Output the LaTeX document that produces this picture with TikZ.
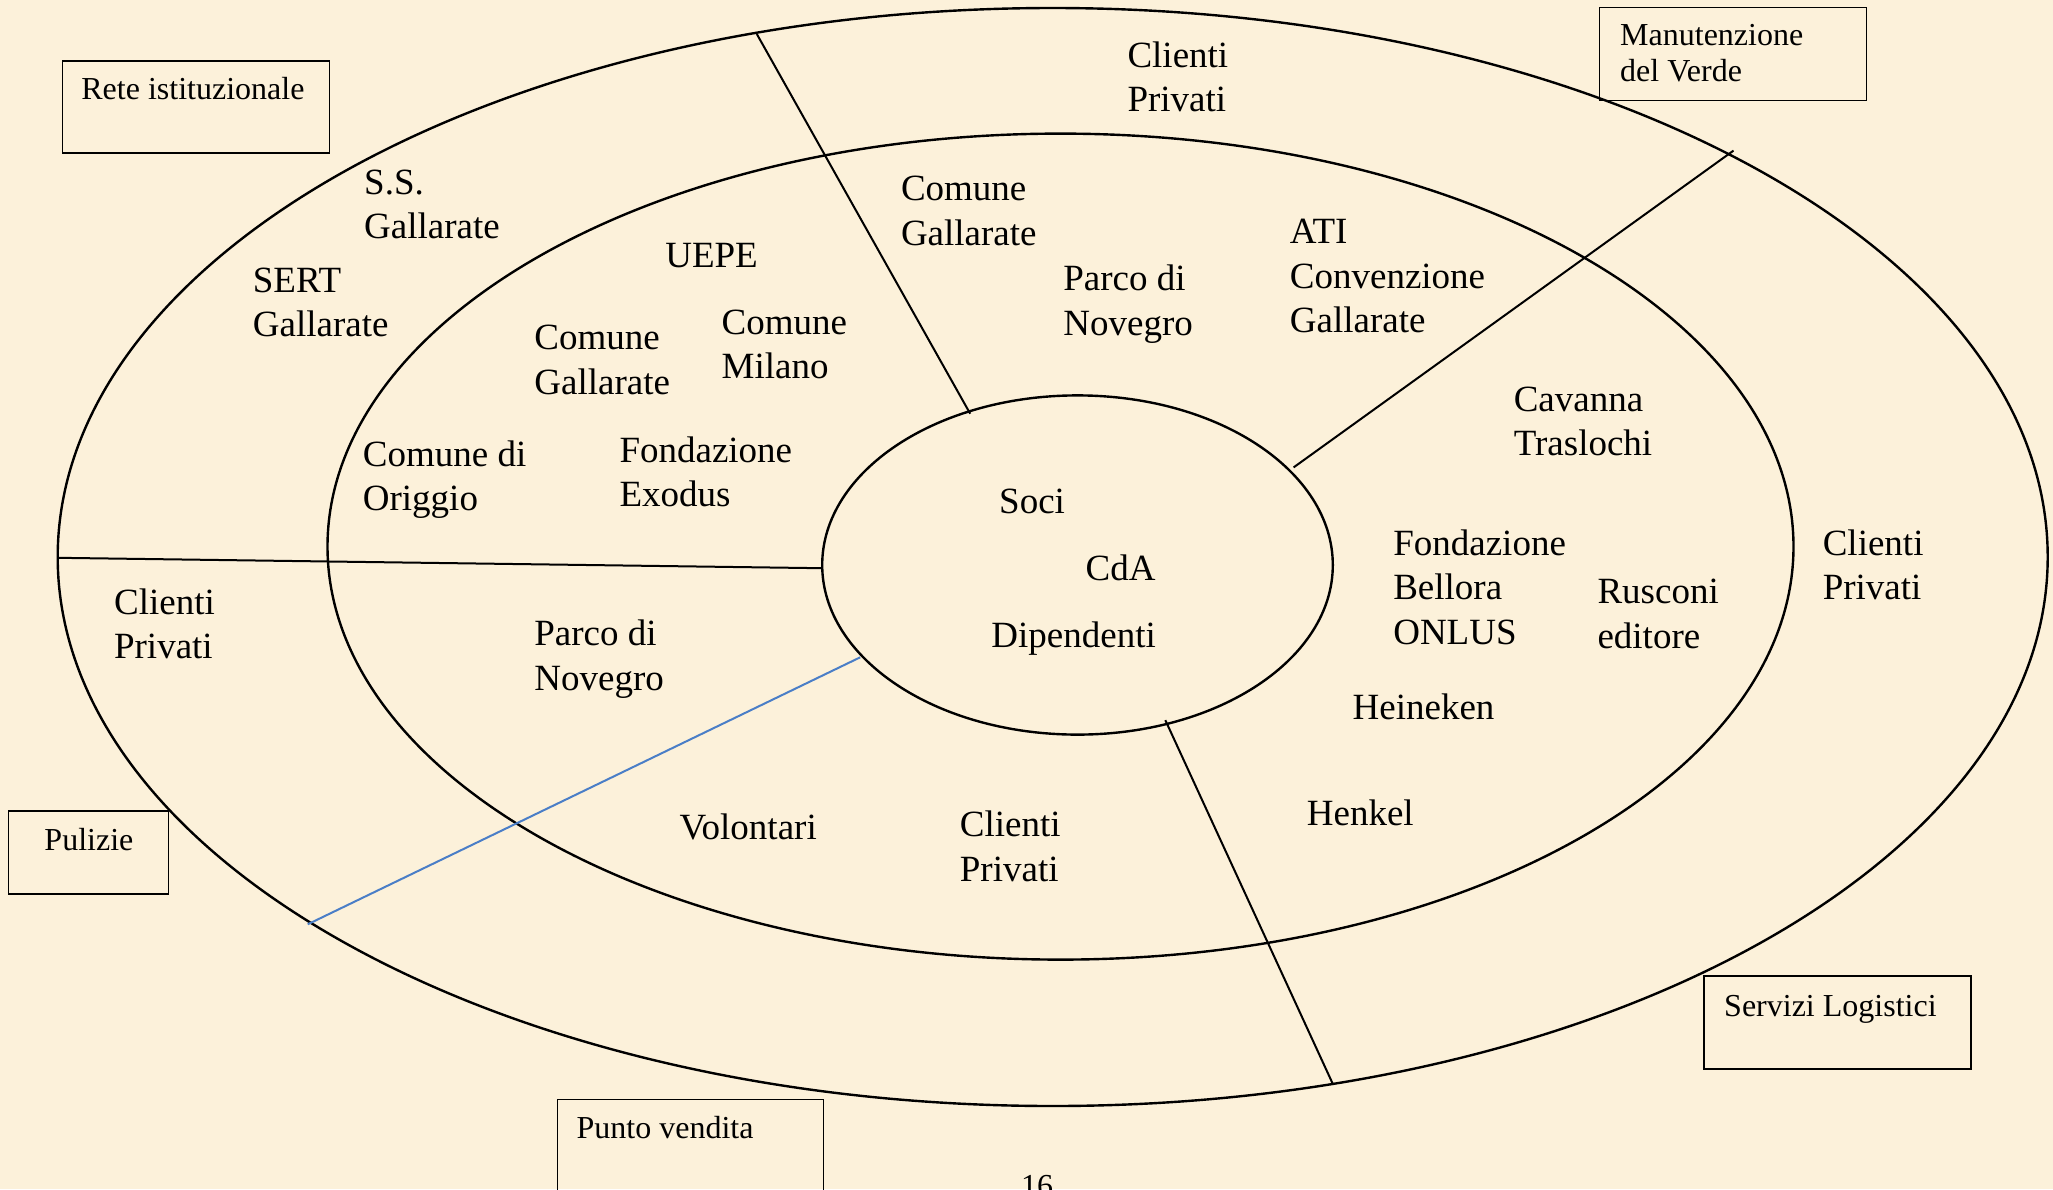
\documentclass[tikz,border=0pt]{standalone}
\usepackage{fontspec}
\setmainfont{Liberation Serif}
\definecolor{parch}{RGB}{252,241,218}
\definecolor{blueline}{RGB}{74,126,199}
\newcommand{\mainsz}{\fontsize{37bp}{44.5bp}\selectfont}
\newcommand{\boxsz}{\fontsize{32bp}{36.7bp}\selectfont}
\newcommand{\tlines}[1]{\begin{tabular}[t]{@{}l@{}}#1\end{tabular}}
\begin{document}
\begin{tikzpicture}[x=1bp,y=-1bp,
  lab/.style={anchor=base west, inner sep=0pt, font=\mainsz, yshift=-1.5bp},
  btxt/.style={anchor=base west, inner sep=0pt, font=\boxsz},
  bx/.style={draw, line width=1.5bp, inner sep=0pt, anchor=north west},
  ring/.style={line width=2.4bp},
  div/.style={line width=2bp},
  bdiv/.style={line width=2bp, draw=blueline}]
\useasboundingbox (0,0) rectangle (2053,1189);
\fill[parch] (0,0) rectangle (2053,1189);

% rings
\draw[ring] (1052.7,557) ellipse [x radius=995, y radius=549];
\draw[ring] (1060.5,546.6) ellipse [x radius=733, y radius=413];
\draw[ring] (1077.5,565) ellipse [x radius=255.3, y radius=169.6];

% divider end points
\coordinate (d1a) at (756.8,34);
\coordinate (d1b) at (970.2,413.7);
\coordinate (d2a) at (1733.5,150.6);
\coordinate (d2b) at (1293.6,467.4);
\coordinate (d3a) at (57.6,557.8);
\coordinate (d3b) at (822.2,568.2);
\coordinate (d4a) at (307.7,924.3);
\coordinate (d4b) at (860.2,657.3);
\coordinate (d5a) at (1165.3,720.1);
\coordinate (d5b) at (1332.9,1084.1);
\draw[div] (d1a) -- (d1b);
\draw[div] (d2a) -- (d2b);
\draw[div] (d3a) -- (d3b);
\draw[bdiv] (d4a) -- (d4b);
\draw[div] (d5a) -- (d5b);

% boxes
\node[bx, minimum width=267bp, minimum height=92bp] (brete) at (61.5,60.2) {};
\node[btxt] (trete) at (81.2,99.3) {Rete istituzionale};
\node[bx, minimum width=267bp, minimum height=93bp] (bman) at (1598.7,6.5) {};
\node[btxt] (tman) at (1620,45) {\tlines{Manutenzione\\del Verde}};
\node[bx, minimum width=160bp, minimum height=83bp] (bpul) at (7.9,810.4) {};
\node[btxt] (tpul) at (44.3,850.7) {Pulizie};
\node[bx, minimum width=267bp, minimum height=93bp] (bserv) at (1703.4,975.4) {};
\node[btxt] (tserv) at (1724,1016.7) {Servizi Logistici};
\node[bx, minimum width=266bp, minimum height=140bp] (bpunto) at (556.5,1098.5) {};
\node[btxt] (tpunto) at (576.5,1138.5) {Punto vendita};
\node[btxt] (pagenum) at (1021,1196) {16};

% labels
\node[lab] (l1) at (1127.3,65.5) {\tlines{Clienti\\Privati}};
\node[lab] (l2) at (364,192.5) {\tlines{S.S.\\Gallarate}};
\node[lab] (l3) at (252.7,290.7) {\tlines{SERT\\Gallarate}};
\node[lab] (l4) at (665.1,265.8) {UEPE};
\node[lab] (l5) at (534.2,348.3) {\tlines{Comune\\Gallarate}};
\node[lab] (l6) at (721.4,332.6) {\tlines{Comune\\Milano}};
\node[lab] (l7) at (362.7,464.8) {\tlines{Comune di\\Origgio}};
\node[lab] (l8) at (619.3,460.9) {\tlines{Fondazione\\Exodus}};
\node[lab] (l9) at (900.8,199) {\tlines{Comune\\Gallarate}};
\node[lab] (l10) at (1063.2,289.4) {\tlines{Parco di\\Novegro}};
\node[lab] (l11) at (1289.7,242.2) {\tlines{ATI\\Convenzione\\Gallarate}};
\node[lab] (l12) at (1513.6,409.8) {\tlines{Cavanna\\Traslochi}};
\node[lab] (l13) at (999,512) {Soci};
\node[lab] (l14) at (1085.4,578.7) {CdA};
\node[lab] (l15) at (991.2,645.5) {Dipendenti};
\node[lab] (l16) at (1393.1,553.8) {\tlines{Fondazione\\Bellora\\ONLUS}};
\node[lab] (l17) at (1597.3,602.3) {\tlines{Rusconi\\editore}};
\node[lab] (l18) at (1822.6,553.8) {\tlines{Clienti\\Privati}};
\node[lab] (l19) at (1352.5,717.5) {Heineken};
\node[lab] (l20) at (1306.7,823.5) {Henkel};
\node[lab] (l21) at (959.7,835.3) {\tlines{Clienti\\Privati}};
\node[lab] (l22) at (679.5,838) {Volontari};
\node[lab] (l23) at (534.2,644.2) {\tlines{Parco di\\Novegro}};
\node[lab] (l24) at (113.9,612.7) {\tlines{Clienti\\Privati}};
\end{tikzpicture}
\end{document}
